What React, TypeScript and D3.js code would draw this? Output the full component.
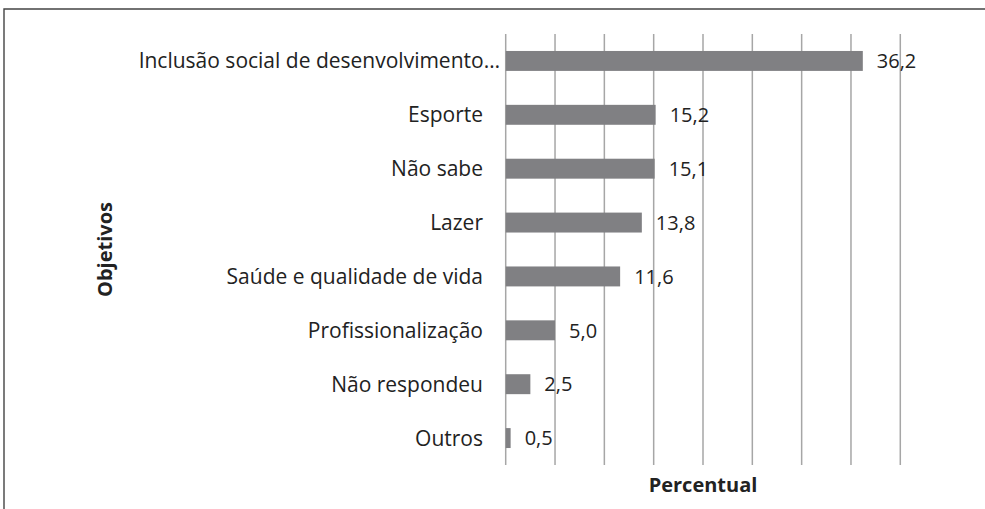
import React from "react";
import * as d3 from "d3";

const categories = [
  "Inclusão social de desenvolvimento…",
  "Esporte",
  "Não sabe",
  "Lazer",
  "Saúde e qualidade de vida",
  "Profissionalização",
  "Não respondeu",
  "Outros",
];
const values = [36.2, 15.2, 15.1, 13.8, 11.6, 5.0, 2.5, 0.5];
const xTicks = [0, 5, 10, 15, 20, 25, 30, 35, 40];
const xTitle = "Percentual";
const yTitle = "Objetivos";

const W = 985;
const H = 509;
const FONT = "'Open Sans', 'DejaVu Sans', sans-serif";

export default function App() {
  const x = d3.scaleLinear().domain([0, 40]).range([505.7, 900.3]);
  const y = d3
    .scaleBand<string>()
    .domain(categories)
    .range([34, 465])
    .paddingInner(0.63)
    .paddingOuter(0.315);
  const fmt = (v: number) => v.toFixed(1).replace(".", ",");
  const [y0, y1] = y.range();
  const midY = (y0 + y1) / 2;
  const midX = (x.range()[0] + x.range()[1]) / 2;

  return (
    <svg
      width={W}
      height={H}
      style={{ position: "absolute", left: 0, top: 0, background: "#fff" }}
      fontFamily={FONT}
    >
      <rect x={0} y={0} width={W} height={H} fill="#fff" />
      {/* frame */}
      <path d={`M4,${H} V9 H${W}`} fill="none" stroke="#444" strokeWidth={1.4} />
      {/* gridlines */}
      {xTicks.map((t) => (
        <line
          key={t}
          x1={x(t)}
          x2={x(t)}
          y1={y0}
          y2={y1}
          stroke="#a6a6a6"
          strokeWidth={1.5}
        />
      ))}
      {/* bars */}
      {categories.map((c, i) => (
        <rect
          key={c}
          x={x(0)}
          y={y(c)!}
          width={x(values[i]) - x(0)}
          height={y.bandwidth()}
          fill="#808083"
        />
      ))}
      {/* value labels */}
      {categories.map((c, i) => (
        <text
          key={c}
          x={x(values[i]) + 14}
          y={y(c)! + y.bandwidth() / 2}
          dy="0.36em"
          fontSize={20}
          fill="#222"
        >
          {fmt(values[i])}
        </text>
      ))}
      {/* category labels */}
      {categories.map((c) => (
        <text
          key={c}
          x={c.endsWith("…") ? 500 : 483}
          y={y(c)! + y.bandwidth() / 2}
          dy="0.36em"
          textAnchor="end"
          fontSize={21}
          fill="#222"
        >
          {c}
        </text>
      ))}
      {/* axis titles */}
      <text
        x={midX}
        y={492}
        textAnchor="middle"
        fontSize={20}
        fontWeight="bold"
        fill="#222"
      >
        {xTitle}
      </text>
      <text
        transform={`translate(112,${midY}) rotate(-90)`}
        textAnchor="middle"
        fontSize={20}
        fontWeight="bold"
        fill="#222"
      >
        {yTitle}
      </text>
    </svg>
  );
}
